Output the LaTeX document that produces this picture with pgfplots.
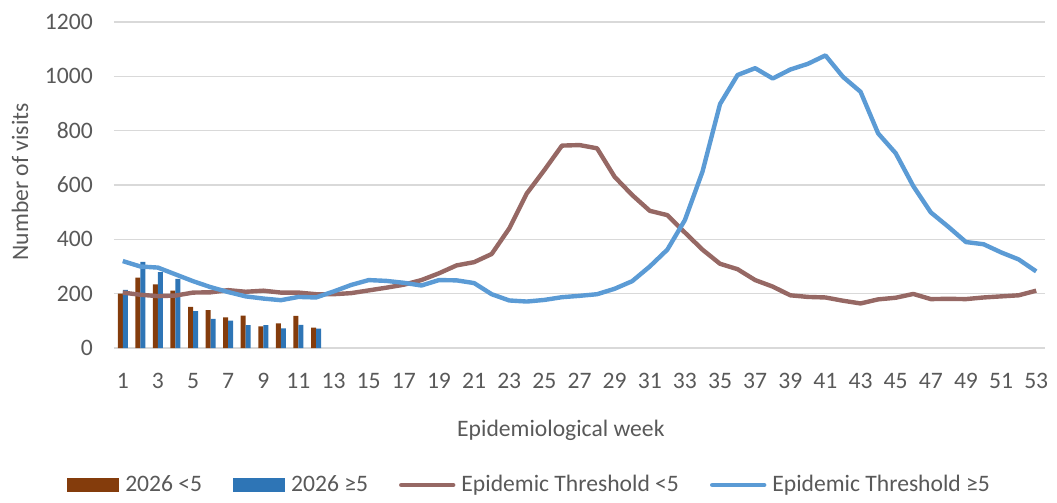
\documentclass[border=0pt]{standalone}
\usepackage{pgfplots}
\pgfplotsset{compat=1.18}
\usepackage{fontspec}
\setmainfont{Carlito}
\usetikzlibrary{calc}

\definecolor{txtgray}{RGB}{89,89,89}
\definecolor{gridgray}{RGB}{217,217,217}
\definecolor{barbrown}{RGB}{132,60,12}
\definecolor{barblue}{RGB}{46,117,182}
\definecolor{linebrown}{RGB}{150,104,100}
\definecolor{lineblue}{RGB}{91,155,213}

\begin{document}
\begin{tikzpicture}
\fontsize{11.8}{14}\selectfont
\begin{axis}[
name=ax,
scale only axis,
width=465.5pt, height=163pt,
xmin=0.5, xmax=53.5,
ymin=0, ymax=1200,
xtick={1,3,...,53},
ytick={0,200,...,1200},
major tick length=0pt,
axis line style={draw=none},
ymajorgrids,
grid style={gridgray, line width=0.75pt},
/pgf/number format/assume math mode=true,
/pgf/number format/1000 sep={},
tick label style={font=\fontsize{11.8}{14}\selectfont, color=txtgray},
xticklabel style={yshift=-8.5pt},
yticklabel style={xshift=-6.5pt},
xlabel={Epidemiological week},
ylabel={Number of visits},
label style={font=\fontsize{11.8}{14}\selectfont, color=txtgray},
xlabel style={at={(rel axis cs:0.48,0)}, anchor=center, yshift=-41pt},
ylabel style={at={(rel axis cs:0,0.51)}, anchor=center, rotate=0, yshift=47pt},
legend columns=4,
legend style={draw=none, fill=none, font=\fontsize{11.8}{14}\selectfont, text=txtgray,
  at={(rel axis cs:0.4475,0)}, anchor=center, yshift=-68.5pt,
  /tikz/every odd column/.append style={column sep=1pt},
  /tikz/every even column/.append style={column sep=13.5pt}},
legend cell align=left,
clip=false,
]
\addplot[ybar, bar width=2.5pt, bar shift=-1.25pt, fill=barbrown, draw=none,
  legend image code/.code={\fill[barbrown] (0pt,-3.5pt) rectangle (26pt,3.5pt);}]
coordinates {
(1,200) (2,259) (3,234) (4,211) (5,151) (6,139) (7,113) (8,119) (9,80) (10,91) (11,118) (12,75)
};
\addlegendentry{2026 <5}
\addplot[ybar, bar width=2.5pt, bar shift=1.25pt, fill=barblue, draw=none,
  legend image code/.code={\fill[barblue] (0pt,-3.5pt) rectangle (26pt,3.5pt);}]
coordinates {
(1,214) (2,317) (3,279) (4,254) (5,136) (6,107) (7,101) (8,84) (9,84) (10,72) (11,85) (12,71)
};
\addlegendentry{2026 ≥5}
\addplot[linebrown, line width=2.2pt, line join=round,
  legend image code/.code={\draw[linebrown, line width=2.2pt, line cap=round] (0pt,0pt) -- (26pt,0pt);}]
table {
1 204
2 196
3 191
4 193
5 204
6 205
7 213
8 207
9 211
10 204
11 204
12 198
13 198
14 202
15 212
16 222
17 233
18 250
19 275
20 304
21 316
22 346
23 440
24 569
25 655
26 745
27 747
28 735
29 630
30 563
31 505
32 489
33 425
34 362
35 310
36 290
37 250
38 226
39 194
40 188
41 186
42 174
43 164
44 179
45 185
46 199
47 180
48 181
49 180
50 186
51 190
52 194
53 211
};
\addlegendentry{Epidemic Threshold <5}
\addplot[lineblue, line width=2.2pt, line join=round,
  legend image code/.code={\draw[lineblue, line width=2.2pt, line cap=round] (0pt,0pt) -- (26pt,0pt);}]
table {
1 320
2 300
3 296
4 271
5 246
6 224
7 206
8 190
9 182
10 176
11 188
12 186
13 208
14 232
15 250
16 247
17 240
18 230
19 250
20 249
21 239
22 198
23 175
24 171
25 177
26 187
27 192
28 198
29 218
30 246
31 300
32 362
33 471
34 649
35 898
36 1005
37 1030
38 992
39 1025
40 1046
41 1077
42 998
43 943
44 790
45 717
46 596
47 499
48 446
49 390
50 382
51 352
52 326
53 282
};
\addlegendentry{Epidemic Threshold ≥5}
\end{axis}
\path[use as bounding box] ($(ax.south west)+(-57pt,-75pt)$) rectangle ($(ax.north east)+(6pt,11pt)$);
\end{tikzpicture}
\end{document}
